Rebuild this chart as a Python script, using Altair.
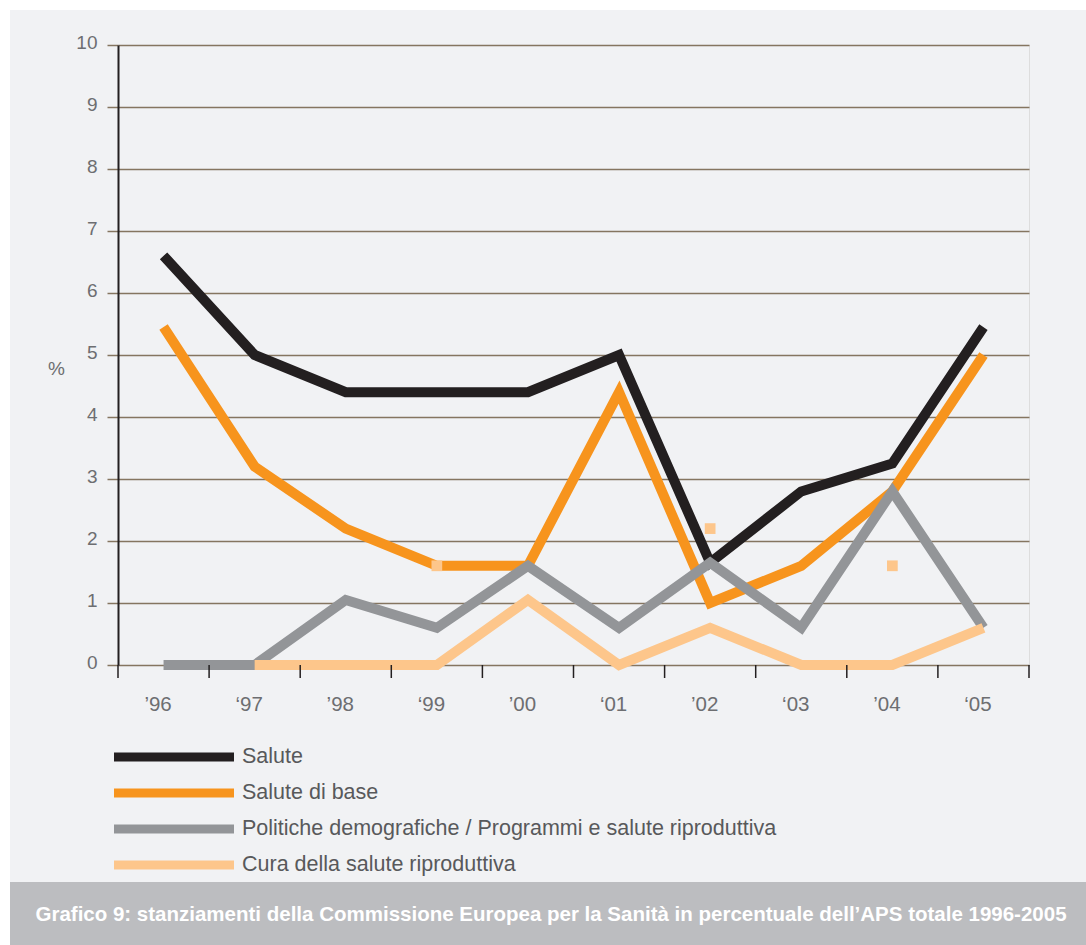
import json

import altair as alt
import pandas as pd

# Years shown on the horizontal axis (with typographic apostrophes)
years = ["’96", "‘97", "’98", "‘99", "’00", "‘01", "’02", "‘03", "’04", "‘05"]

# Share of total ODA (%) per series
salute = [6.6, 5.0, 4.4, 4.4, 4.4, 5.0, 1.65, 2.8, 3.25, 5.45]
salute_base = [5.45, 3.2, 2.2, 1.6, 1.6, 4.4, 1.0, 1.6, 2.8, 5.0]
politiche = [0.0, 0.0, 1.05, 0.6, 1.6, 0.6, 1.65, 0.6, 2.8, 0.6]
cura = [None, 0.0, 0.0, 0.0, 1.05, 0.0, 0.6, 0.0, 0.0, 0.6]

# Isolated values plotted as small squares
marker_years = ["‘99", "’02", "’04"]
marker_values = [1.6, 2.2, 1.6]

series_names = [
    "Salute",
    "Salute di base",
    "Politiche demografiche / Programmi e salute riproduttiva",
    "Cura della salute riproduttiva",
]
series_values = [salute, salute_base, politiche, cura]
series_colors = ["#231f20", "#f7941d", "#939598", "#fdc68b"]

y_ticks = list(range(0, 11))
title_text = ("Grafico 9: stanziamenti della Commissione Europea per la Sanità "
              "in percentuale dell’APS totale 1996-2005")

FONT = "Liberation Sans"
W, H = 911, 620
PAD_L, PAD_T = 118, 45
PAD_R, PAD_B = 1086 - PAD_L - W, 945 - PAD_T - H
GRID = "#857560"
LABEL = "#6d6e71"

# Long-format table: one row per (series, year)
rows = []
for name, vals in zip(series_names, series_values):
    for i, v in enumerate(vals):
        rows.append({"series": name, "year": years[i], "pos": i + 0.5, "value": v})
df = pd.DataFrame(rows)

markers = pd.DataFrame({
    "year": marker_years,
    "pos": [years.index(y) + 0.5 for y in marker_years],
    "value": marker_values,
})
boundaries = pd.DataFrame({"pos": list(range(len(years) + 1))})
legend_df = pd.DataFrame({"series": series_names})

color_scale = alt.Scale(domain=series_names, range=series_colors)
x_scale = alt.Scale(domain=[0, len(years)], nice=False, zero=False)
y_scale = alt.Scale(domain=[0, 10], nice=False)

label_expr = json.dumps(years) + "[floor(datum.value)]"
x_axis = alt.Axis(
    values=[i + 0.5 for i in range(len(years))],
    labelExpr=label_expr,
    ticks=False, domain=False, grid=False, title=None,
    labelFontSize=20.5, labelColor=LABEL, labelPadding=29, labelOffset=-6,
    labelFont=FONT,
)
y_axis = alt.Axis(
    values=y_ticks, grid=True, gridColor=GRID, gridWidth=1.5, gridOpacity=1,
    tickColor=GRID, tickSize=11, tickWidth=1.5,
    domainColor="#231f20", domainWidth=2,
    labelFontSize=19, labelColor=LABEL, labelPadding=10, labelFont=FONT,
    labelOffset=-3,
    title="%", titleAngle=0, titleX=-62, titleY=323, titleAlign="center",
    titleBaseline="middle", titleFontWeight="normal", titleFontSize=19,
    titleColor=LABEL, titleFont=FONT,
)

x_enc = alt.X("pos:Q", scale=x_scale, axis=x_axis)
y_enc = alt.Y("value:Q", scale=y_scale, axis=y_axis)

line_layers = []
for name in series_names:
    line_layers.append(
        alt.Chart(df)
        .transform_filter(alt.datum.series == name)
        .mark_line(strokeWidth=10, strokeCap="butt", strokeJoin="miter")
        .encode(
            x=x_enc, y=y_enc,
            color=alt.Color("series:N", scale=color_scale, legend=None),
        )
    )

square_layer = (
    alt.Chart(markers)
    .mark_square(size=115, filled=True, opacity=1, color=series_colors[3])
    .encode(x=x_enc, y=y_enc)
)

tick_layer = (
    alt.Chart(boundaries)
    .mark_rule(color="#231f20", strokeWidth=1.5)
    .encode(x=alt.X("pos:Q", scale=x_scale, axis=x_axis),
            y=alt.value(H), y2=alt.value(H + 13))
)

plot = alt.layer(*line_layers, square_layer, tick_layer)

legend_y = alt.Y("series:N", sort=series_names,
                 scale=alt.Scale(type="point", range=[712, 820], padding=0),
                 axis=None)
legend_rules = (
    alt.Chart(legend_df)
    .mark_rule(strokeWidth=9, strokeCap="butt")
    .encode(x=alt.value(-4), x2=alt.value(116), y=legend_y,
            color=alt.Color("series:N", scale=color_scale, legend=None))
)
legend_text = (
    alt.Chart(legend_df)
    .mark_text(align="left", baseline="middle", fontSize=21.5,
               color="#58595b", font=FONT)
    .encode(x=alt.value(124), y=legend_y, text="series:N")
)
legend = alt.layer(legend_rules, legend_text)

one = pd.DataFrame({"k": [0]})
# White page margin on the left and top, grey caption band at the bottom
frame = alt.layer(
    alt.Chart(one).mark_rect(color="white").encode(
        x=alt.value(-PAD_L), x2=alt.value(-PAD_L + 10),
        y=alt.value(-PAD_T), y2=alt.value(H + PAD_B)),
    alt.Chart(one).mark_rect(color="white").encode(
        x=alt.value(-PAD_L), x2=alt.value(W + PAD_R),
        y=alt.value(-PAD_T), y2=alt.value(-PAD_T + 10)),
    alt.Chart(one).mark_rect(color="#bcbdc0").encode(
        x=alt.value(-PAD_L + 10), x2=alt.value(W + PAD_R),
        y=alt.value(882 - PAD_T), y2=alt.value(H + PAD_B)),
    alt.Chart(one).mark_text(text=title_text, color="white", fontSize=20.5,
                             fontWeight="bold", font=FONT, align="center",
                             baseline="middle").encode(
        x=alt.value(551 - PAD_L), y=alt.value(915 - PAD_T)),
)

chart = (
    alt.layer(plot, legend, frame)
    .resolve_scale(y="independent")
    .properties(
        width=W, height=H,
        autosize=alt.AutoSizeParams(type="none"),
        padding={"left": PAD_L, "top": PAD_T, "right": PAD_R, "bottom": PAD_B},
        background="#f1f2f4",
    )
    .configure_view(fill="#e5e6e8", stroke=None)
    .configure(font=FONT)
)

chart.save("out.html", embed_options={"renderer": "svg", "actions": False})
